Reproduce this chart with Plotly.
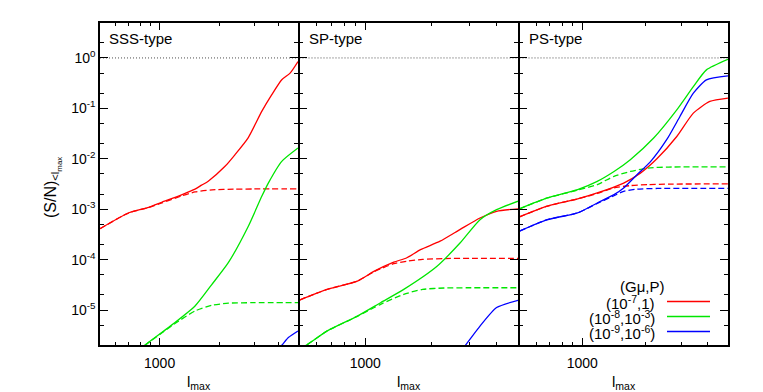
import numpy as np
import plotly.graph_objects as go

OFF = 8                      # default page body margin of the html page
W, H = 763 - OFF, 392 - OFF

panel_titles = ["SSS-type", "SP-type", "PS-type"]
x_range = [500, 5000]
y_range = [2e-6, 5]
x_major = [1000]
x_major_text = ["1000"]
x_minor = [600, 700, 800, 900, 2000, 3000, 4000]
y_major = [1e-5, 1e-4, 1e-3, 1e-2, 1e-1, 1]
y_major_text = ["10<sup>-5</sup>", "10<sup>-4</sup>", "10<sup>-3</sup>",
                "10<sup>-2</sup>", "10<sup>-1</sup>", "10<sup>0</sup>"]
y_minor = [m * 10.0 ** e for e in range(-6, 1) for m in (2, 5)]

legend_title = "(Gμ,P)"
legend_labels = ["(10<sup>-7</sup>,1)", "(10<sup>-8</sup>,10<sup>-3</sup>)", "(10<sup>-9</sup>,10<sup>-6</sup>)"]

# ---- SSS-type ----
sss_red_l = [500, 700, 880, 1025, 1300, 1510, 1630, 1760, 2140, 2400, 2800, 3280, 3680, 4140, 4560, 5000]
sss_red = [4.1e-4, 8.5e-4, 1.09e-3, 1.37e-3, 1.95e-3, 2.5e-3, 3.0e-3, 3.6e-3, 7.1e-3, 1.2e-2, 2.6e-2, 8.7e-2, 0.185, 0.37, 0.50, 0.85]
sss_red_dash_l = [500, 700, 880, 1025, 1300, 1510, 1840, 2400, 3000, 5000]
sss_red_dash = [4.1e-4, 8.5e-4, 1.08e-3, 1.33e-3, 1.85e-3, 2.2e-3, 2.42e-3, 2.5e-3, 2.52e-3, 2.52e-3]
sss_green_l = [780, 843, 1025, 1196, 1510, 1834, 2223, 2806, 3281, 3540, 4139, 5000]
sss_green = [1.5e-6, 2.0e-6, 3.58e-6, 5.65e-6, 1.2e-5, 3.2e-5, 8.7e-5, 4.6e-4, 1.8e-3, 3.3e-3, 8.9e-3, 1.64e-2]
sss_green_dash_l = [780, 843, 1025, 1196, 1510, 1834, 2223, 3000, 5000]
sss_green_dash = [1.5e-6, 2.0e-6, 3.5e-6, 5.4e-6, 9.6e-6, 1.24e-5, 1.37e-5, 1.4e-5, 1.4e-5]
sss_blue_l = [3900, 4140, 4470, 5000]
sss_blue = [1.6e-6, 2.0e-6, 2.85e-6, 3.85e-6]

# ---- SP-type ----
sp_red_l = [500, 670, 920, 1100, 1350, 1550, 1790, 2200, 2720, 3350, 3990, 5000]
sp_red = [1.58e-5, 2.57e-5, 3.76e-5, 5.9e-5, 8.9e-5, 1.09e-4, 1.58e-4, 2.32e-4, 3.98e-4, 6.7e-4, 9.1e-4, 1.02e-3]
sp_red_dash_l = [500, 670, 920, 1100, 1350, 1550, 1830, 2300, 3000, 5000]
sp_red_dash = [1.58e-5, 2.57e-5, 3.76e-5, 5.8e-5, 8.3e-5, 9.3e-5, 1.01e-4, 1.05e-4, 1.06e-4, 1.06e-4]
sp_green_l = [500, 536, 670, 920, 1175, 1500, 2130, 2720, 3350, 3990, 5000]
sp_green = [1.75e-6, 2.0e-6, 3.86e-6, 7.6e-6, 1.40e-5, 2.57e-5, 7.4e-5, 2.16e-4, 6.2e-4, 9.8e-4, 1.44e-3]
sp_green_dash_l = [500, 536, 670, 920, 1175, 1500, 1830, 2300, 3000, 5000]
sp_green_dash = [1.75e-6, 2.0e-6, 3.86e-6, 7.5e-6, 1.30e-5, 2.05e-5, 2.57e-5, 2.74e-5, 2.77e-5, 2.77e-5]
sp_blue_l = [2700, 2870, 3350, 3990, 5000]
sp_blue = [1.5e-6, 2.0e-6, 4.8e-6, 1.12e-5, 1.56e-5]

# ---- PS-type ----
ps_red_l = [500, 680, 950, 1180, 1580, 1900, 2280, 2840, 3410, 4090, 5000]
ps_red = [7.06e-4, 1.15e-3, 1.6e-3, 2.1e-3, 3.3e-3, 5.2e-3, 1.0e-2, 2.77e-2, 8.05e-2, 0.137, 0.16]
ps_red_dash_l = [500, 680, 950, 1180, 1420, 1700, 2070, 2600, 5000]
ps_red_dash = [7.06e-4, 1.15e-3, 1.6e-3, 2.05e-3, 2.64e-3, 2.94e-3, 3.07e-3, 3.15e-3, 3.17e-3]
ps_green_l = [500, 680, 950, 1180, 1420, 1700, 2200, 2840, 3410, 3940, 5000]
ps_green = [1.02e-3, 1.67e-3, 2.45e-3, 3.57e-3, 5.6e-3, 9.6e-3, 2.58e-2, 9.35e-2, 0.27, 0.58, 0.94]
ps_green_dash_l = [500, 680, 950, 1180, 1420, 1700, 2070, 2600, 5000]
ps_green_dash = [1.02e-3, 1.67e-3, 2.4e-3, 3.07e-3, 4.5e-3, 5.6e-3, 6.56e-3, 6.85e-3, 6.88e-3]
ps_blue_l = [500, 680, 950, 1180, 1420, 1580, 1830, 2120, 2540, 2940, 3410, 3940, 5000]
ps_blue = [3.67e-4, 6.2e-4, 8.45e-4, 1.33e-3, 1.95e-3, 2.64e-3, 4.84e-3, 8.7e-3, 2.39e-2, 6.9e-2, 0.2, 0.367, 0.44]
ps_blue_dash_l = [500, 680, 950, 1180, 1420, 1580, 1830, 2300, 5000]
ps_blue_dash = [3.67e-4, 6.2e-4, 8.45e-4, 1.3e-3, 1.85e-3, 2.27e-3, 2.5e-3, 2.58e-3, 2.6e-3]

RED, GREEN, BLUE = "#ff0000", "#00e600", "#0000ff"

panel_series = [
    [(sss_red_l, sss_red, RED, "solid"), (sss_red_dash_l, sss_red_dash, RED, "dash"),
     (sss_green_l, sss_green, GREEN, "solid"), (sss_green_dash_l, sss_green_dash, GREEN, "dash"),
     (sss_blue_l, sss_blue, BLUE, "solid")],
    [(sp_red_l, sp_red, RED, "solid"), (sp_red_dash_l, sp_red_dash, RED, "dash"),
     (sp_green_l, sp_green, GREEN, "solid"), (sp_green_dash_l, sp_green_dash, GREEN, "dash"),
     (sp_blue_l, sp_blue, BLUE, "solid")],
    [(ps_red_l, ps_red, RED, "solid"), (ps_red_dash_l, ps_red_dash, RED, "dash"),
     (ps_green_l, ps_green, GREEN, "solid"), (ps_green_dash_l, ps_green_dash, GREEN, "dash"),
     (ps_blue_l, ps_blue, BLUE, "solid"), (ps_blue_dash_l, ps_blue_dash, BLUE, "dash")],
]

LW = 1.5
# panel pixel geometry (page pixels)
px_edges = [(100, 298), (298 + LW, 518), (518 + LW, 728)]
py_top, py_bot = 22.7, 345.3

FONT = "Liberation Sans, Arial, Helvetica, sans-serif"
fig = go.Figure()


def px(x):
    return (x - OFF) / W


def py(y):
    return 1 - (y - OFF) / H


for i, series in enumerate(panel_series):
    xa = "x" if i == 0 else f"x{i+1}"
    ya = "y" if i == 0 else f"y{i+1}"
    fig.add_trace(go.Scatter(x=x_range, y=[1, 1], mode="lines", xaxis=xa, yaxis=ya,
                             line=dict(color="#222222", width=0.8, dash="1px,2px"),
                             showlegend=False, hoverinfo="skip"))
    for (lx, vy, col, dash) in series:
        fig.add_trace(go.Scatter(x=lx, y=vy, mode="lines", xaxis=xa, yaxis=ya,
                                 line=dict(color=col, width=1.3, shape="spline", smoothing=0.6,
                                           dash="6px,3px" if dash == "dash" else "solid"),
                                 showlegend=False))

axis_common = dict(showline=True, linecolor="black", linewidth=LW, mirror="allticks",
                   ticks="inside", tickcolor="black", tickwidth=1, showgrid=False, zeroline=False)

for i in range(3):
    x0, x1 = px_edges[i]
    sfx = "" if i == 0 else str(i + 1)
    fig.layout["xaxis" + sfx] = dict(
        type="log", range=[np.log10(x_range[0]), np.log10(x_range[1])],
        domain=[px(x0), px(x1)], anchor="y" + sfx,
        tickmode="array", tickvals=x_major, ticktext=x_major_text, ticklen=8,
        ticklabelstandoff=4,
        tickfont=dict(family=FONT, size=14, color="black"),
        minor=dict(tickmode="array", tickvals=x_minor, ticks="inside", ticklen=4,
                   tickcolor="black", tickwidth=1),
        **axis_common)
    fig.layout["yaxis" + sfx] = dict(
        type="log", range=[np.log10(y_range[0]), np.log10(y_range[1])],
        domain=[py(py_bot), py(py_top)], anchor="x" + sfx,
        tickmode="array", tickvals=y_major, ticktext=y_major_text, ticklen=8,
        showticklabels=(i == 0),
        tickfont=dict(family=FONT, size=14, color="black"),
        minor=dict(tickmode="array", tickvals=y_minor, ticks="inside", ticklen=4,
                   tickcolor="black", tickwidth=1),
        **axis_common)

ann = []
for i in range(3):
    x0, x1 = px_edges[i]
    ann.append(dict(x=px(x0 + 7), y=py(38), xref="paper", yref="paper", text=panel_titles[i],
                    showarrow=False, xanchor="left", yanchor="middle",
                    font=dict(family=FONT, size=15, color="black")))
    ann.append(dict(x=px((x0 + x1) / 2), y=py(382), xref="paper", yref="paper",
                    text="l<sub>max</sub>", showarrow=False, xanchor="center", yanchor="middle",
                    font=dict(family=FONT, size=15, color="black")))

ann.append(dict(x=px(53), y=py(188), xref="paper", yref="paper",
                text="(S/N)<sub>&lt;l<sub>max</sub></sub>", textangle=-90,
                showarrow=False, xanchor="center", yanchor="middle",
                font=dict(family=FONT, size=16, color="black")))

# legend (gnuplot style: text, then sample line to the right)
ann.append(dict(x=px(642), y=py(286), xref="paper", yref="paper", text=legend_title,
                showarrow=False, xanchor="center", yanchor="middle",
                font=dict(family=FONT, size=15, color="black")))
leg_colors = [RED, GREEN, BLUE]
shapes = []
for k, (lab, col) in enumerate(zip(legend_labels, leg_colors)):
    yy = 301.5 + 15 * k
    ann.append(dict(x=px(657), y=py(yy + 1), xref="paper", yref="paper", text=lab,
                    showarrow=False, xanchor="right", yanchor="middle",
                    font=dict(family=FONT, size=15, color="black")))
    shapes.append(dict(type="line", xref="paper", yref="paper", x0=px(667), x1=px(710),
                       y0=py(yy), y1=py(yy), line=dict(color=col, width=1.3)))

fig.update_layout(width=W, height=H, margin=dict(l=0, r=0, t=0, b=0),
                  paper_bgcolor="white", plot_bgcolor="white",
                  annotations=ann, shapes=shapes, showlegend=False)

fig.write_html("out.html")
